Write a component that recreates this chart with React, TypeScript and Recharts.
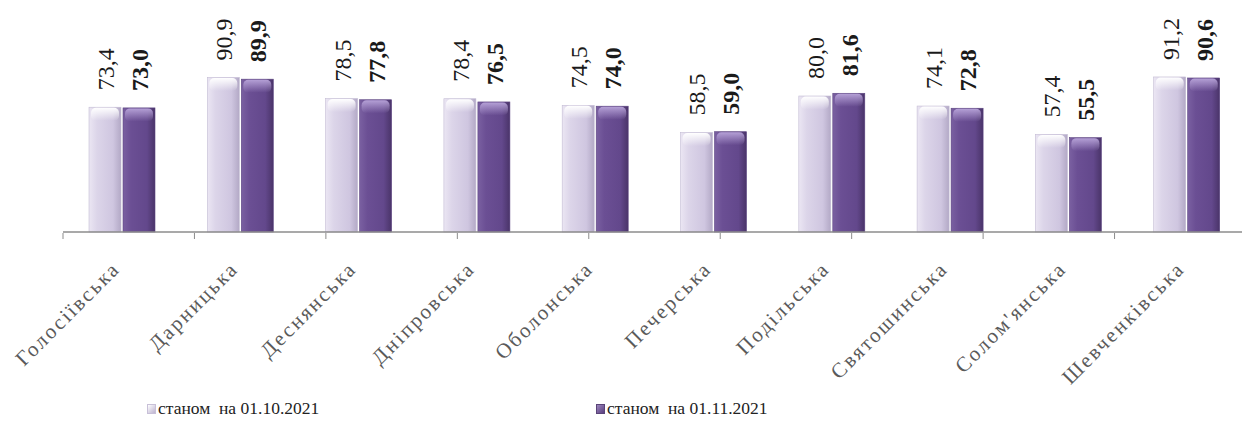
import React from 'react';
import { BarChart, Bar, XAxis, YAxis, LabelList } from 'recharts';

// districts of Kyiv, two snapshots
const DISTRICTS = [
  'Голосіївська', 'Дарницька', 'Деснянська', 'Дніпровська', 'Оболонська',
  'Печерська', 'Подільська', 'Святошинська', "Солом'янська", 'Шевченківська',
];
const OCT_2021 = [73.4, 90.9, 78.5, 78.4, 74.5, 58.5, 80.0, 74.1, 57.4, 91.2];
const NOV_2021 = [73.0, 89.9, 77.8, 76.5, 74.0, 59.0, 81.6, 72.8, 55.5, 90.6];
const SERIES_NAMES = ['станом  на 01.10.2021', 'станом  на 01.11.2021'];
const EDGE_TICKS = [0, 1, 2, 3, 4, 5, 6, 7, 8, 9, 10];

const data = DISTRICTS.map((name, i) => ({ name, oct: OCT_2021[i], nov: NOV_2021[i] }));

const FONT = '"Liberation Serif", "Times New Roman", serif';

const fmt = (v: number) => v.toFixed(1).replace('.', ',');

function GlossBar(props: any) {
  const { x, y, width, height, dark } = props;
  if (!height || height <= 0) return null;
  const id = dark ? 'gDark' : 'gLight';
  return (
    <g>
      <rect x={x} y={y} width={width} height={height} fill={`url(#${id})`}
        stroke={dark ? '#5b4380' : '#c4bcd4'} strokeWidth={0.6} />
      <rect x={x + 2} y={y + 0.5} width={width - 4} height={Math.min(13, height)} fill={`url(#${id}Top)`} rx={5} />
    </g>
  );
}

function ValueLabel(props: any) {
  const { x, y, width, value, bold } = props;
  const cx = x + width / 2 + 1;
  const cy = y - 17;
  return (
    <text
      x={cx} y={cy}
      transform={`rotate(-90, ${cx}, ${cy})`}
      textAnchor="start"
      dominantBaseline="central"
      fontFamily={FONT}
      fontSize={24}
      fontWeight={bold ? 700 : 400}
      fill="#1a1a1a"
    >
      {fmt(Number(value))}
    </text>
  );
}

function DistrictTick(props: any) {
  const { x, y, payload } = props;
  const tx = x - 1;
  const ty = y + 30;
  return (
    <text
      x={tx} y={ty}
      transform={`rotate(-45, ${tx}, ${ty})`}
      textAnchor="end"
      fontFamily={FONT}
      fontSize={21}
      letterSpacing={2.2}
      fill="#5a5a5a"
    >
      {payload.value}
    </text>
  );
}

function Swatch({ dark }: { dark?: boolean }) {
  return (
    <span style={{
      display: 'inline-block', width: 9, height: 10, marginRight: 2,
      background: dark
        ? 'linear-gradient(135deg, #9c86bd, #5a3f80)'
        : 'linear-gradient(135deg, #ffffff, #bdb3d0)',
      border: '1px solid ' + (dark ? '#5a4478' : '#c8c0d8'),
      boxSizing: 'border-box',
    }} />
  );
}

export default function App() {
  return (
    <div style={{ position: 'absolute', left: 0, top: 0, width: 1242, height: 430, overflow: 'hidden', background: '#fff' }}>
      <BarChart
        width={1246}
        height={430}
        data={data}
        margin={{ top: 62, right: 0, left: 63, bottom: 196 }}
        barSize={32}
        barGap={2}
      >
        <defs>
          <linearGradient id="gLight" x1="0" y1="0" x2="1" y2="0">
            <stop offset="0%" stopColor="#ebe6f3" />
            <stop offset="25%" stopColor="#dcd5e9" />
            <stop offset="75%" stopColor="#cfc6e0" />
            <stop offset="100%" stopColor="#b3a9c6" />
          </linearGradient>
          <linearGradient id="gLightTop" x1="0" y1="0" x2="0" y2="1">
            <stop offset="0%" stopColor="#ffffff" stopOpacity={1} />
            <stop offset="100%" stopColor="#ffffff" stopOpacity={0} />
          </linearGradient>
          <linearGradient id="gDark" x1="0" y1="0" x2="1" y2="0">
            <stop offset="0%" stopColor="#7a60a1" />
            <stop offset="25%" stopColor="#6b4f94" />
            <stop offset="75%" stopColor="#63488c" />
            <stop offset="100%" stopColor="#4a3469" />
          </linearGradient>
          <linearGradient id="gDarkTop" x1="0" y1="0" x2="0" y2="1">
            <stop offset="0%" stopColor="#b9a5da" stopOpacity={0.95} />
            <stop offset="100%" stopColor="#b9a5da" stopOpacity={0} />
          </linearGradient>
        </defs>

        {/* boundary ticks between categories; both x axes are 1px tall so they share the baseline */}
        <XAxis
          xAxisId="edge"
          type="number"
          domain={[0, 10]}
          ticks={EDGE_TICKS}
          height={1}
          tick={() => <g />}
          tickSize={6}
          tickLine={{ stroke: '#8c8c8c' }}
          axisLine={false}
          allowDataOverflow
        />
        <XAxis
          xAxisId="cat"
          dataKey="name"
          height={1}
          interval={0}
          tickLine={false}
          axisLine={{ stroke: '#8c8c8c', strokeWidth: 1.5 }}
          tick={<DistrictTick />}
        />
        <YAxis hide domain={[0, 100]} />

        <Bar xAxisId="cat" dataKey="oct" name={SERIES_NAMES[0]} isAnimationActive={false} shape={(p: any) => <GlossBar {...p} />}>
          <LabelList dataKey="oct" content={(p: any) => <ValueLabel {...p} />} />
        </Bar>
        <Bar xAxisId="cat" dataKey="nov" name={SERIES_NAMES[1]} isAnimationActive={false} shape={(p: any) => <GlossBar {...p} dark />}>
          <LabelList dataKey="nov" content={(p: any) => <ValueLabel {...p} bold />} />
        </Bar>
      </BarChart>

      <div style={{ position: 'absolute', left: 147, top: 398, fontFamily: FONT, fontSize: 17.5, color: '#222', whiteSpace: 'pre' }}>
        <Swatch />{SERIES_NAMES[0]}
      </div>
      <div style={{ position: 'absolute', left: 596, top: 398, fontFamily: FONT, fontSize: 17.5, color: '#222', whiteSpace: 'pre' }}>
        <Swatch dark />{SERIES_NAMES[1]}
      </div>
    </div>
  );
}
